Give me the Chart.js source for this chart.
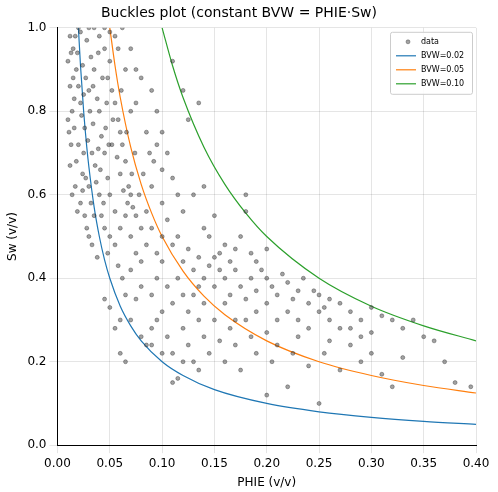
<!DOCTYPE html>
<html><head><meta charset="utf-8">
<script src="https://cdn.jsdelivr.net/npm/chart.js@4"></script>
<style>html,body{margin:0;padding:0;background:#fff}#w{width:498px;height:492px}</style>
</head><body><div id="w"><canvas id="c" width="498" height="492"></canvas></div>
<script>
const dataPts = [
[0.012,0.98],[0.015,0.95],[0.018,0.9],[0.02,0.86],[0.022,0.82],[0.014,0.8],[0.016,0.76],[0.02,0.72],[0.025,0.7],[0.018,0.68],[0.024,0.65],[0.03,0.62],
[0.028,0.97],[0.032,0.93],[0.035,0.9],[0.03,0.85],[0.038,0.83],[0.04,0.8],[0.034,0.77],[0.042,0.74],[0.045,0.7],[0.036,0.67],[0.048,0.64],[0.05,0.6],
[0.044,0.58],[0.055,0.56],[0.026,0.55],[0.04,0.98],[0.045,0.95],[0.05,0.92],[0.048,0.88],[0.052,0.85],[0.055,0.82],[0.058,0.78],[0.06,0.75],[0.062,0.72],
[0.065,0.68],[0.06,0.65],[0.068,0.62],[0.07,0.6],[0.072,0.57],[0.075,0.55],[0.022,0.99],[0.03,1.0],[0.035,1.0],[0.02,1.0],[0.045,1.0],[0.05,0.99],
[0.01,0.92],[0.012,0.86],[0.01,0.78],[0.013,0.72],[0.017,0.62],[0.022,0.58],[0.028,0.52],[0.033,0.48],[0.038,0.45],[0.03,0.5],[0.035,0.55],[0.04,0.6],
[0.045,0.52],[0.05,0.5],[0.055,0.48],[0.06,0.52],[0.065,0.55],[0.07,0.5],[0.08,0.52],[0.085,0.56],[0.078,0.6],[0.082,0.65],[0.088,0.7],[0.092,0.68],
[0.095,0.72],[0.1,0.66],[0.09,0.62],[0.1,0.58],[0.015,0.88],[0.019,0.94],[0.024,0.91],[0.027,0.88],[0.031,0.8],[0.026,0.76],[0.023,0.79],[0.029,0.73],
[0.033,0.7],[0.037,0.63],[0.041,0.66],[0.046,0.76],[0.052,0.72],[0.057,0.69],[0.063,0.61],[0.067,0.58],[0.071,0.65],[0.074,0.7],[0.066,0.75],[0.07,0.8],
[0.061,0.85],[0.065,0.9],[0.058,0.95],[0.062,1.0],[0.055,0.98],[0.012,0.67],[0.014,0.6],[0.019,0.56],[0.024,0.61],[0.016,0.83],[0.011,0.75],[0.013,0.94],
[0.017,0.98],[0.025,0.84],[0.034,0.86],[0.043,0.88],[0.039,0.94],[0.047,0.82],[0.053,0.78],[0.049,0.72],[0.039,0.71],[0.027,0.64],[0.032,0.58],[0.042,0.55],
[0.048,0.46],[0.058,0.43],[0.062,0.4],[0.07,0.42],[0.075,0.46],[0.08,0.44],[0.085,0.48],[0.09,0.52],[0.095,0.46],[0.1,0.5],[0.105,0.54],[0.11,0.48],
[0.115,0.5],[0.12,0.44],[0.125,0.47],[0.13,0.42],[0.135,0.45],[0.14,0.4],[0.145,0.43],[0.15,0.38],[0.155,0.46],[0.16,0.4],[0.165,0.36],[0.17,0.42],
[0.175,0.38],[0.18,0.35],[0.185,0.4],[0.19,0.37],[0.195,0.42],[0.2,0.4],[0.205,0.38],[0.21,0.36],[0.215,0.41],[0.22,0.39],[0.225,0.35],[0.23,0.37],
[0.235,0.4],[0.24,0.34],[0.245,0.37],[0.25,0.36],[0.255,0.33],[0.26,0.35],[0.27,0.34],[0.28,0.32],[0.29,0.3],[0.3,0.33],[0.31,0.31],[0.32,0.3],
[0.33,0.28],[0.35,0.26],[0.37,0.2],[0.38,0.15],[0.395,0.14],[0.36,0.25],[0.34,0.3],[0.07,0.3],[0.08,0.26],[0.085,0.24],[0.09,0.28],[0.095,0.3],
[0.1,0.32],[0.105,0.26],[0.11,0.22],[0.115,0.16],[0.12,0.28],[0.125,0.24],[0.13,0.2],[0.135,0.3],[0.14,0.26],[0.145,0.22],[0.15,0.3],[0.155,0.25],
[0.16,0.2],[0.165,0.28],[0.17,0.24],[0.175,0.18],[0.18,0.3],[0.185,0.26],[0.19,0.22],[0.2,0.27],[0.205,0.2],[0.21,0.24],[0.22,0.14],[0.225,0.22],
[0.23,0.26],[0.24,0.19],[0.25,0.1],[0.255,0.22],[0.26,0.25],[0.27,0.18],[0.28,0.24],[0.29,0.2],[0.3,0.22],[0.31,0.17],[0.32,0.14],[0.33,0.21],
[0.2,0.12],[0.11,0.15],[0.06,0.22],[0.065,0.2],[0.045,0.35],[0.05,0.33],[0.055,0.28],[0.06,0.3],[0.065,0.36],[0.075,0.35],[0.08,0.38],[0.09,0.36],
[0.095,0.4],[0.1,0.44],[0.105,0.38],[0.11,0.34],[0.115,0.4],[0.12,0.36],[0.125,0.32],[0.13,0.36],[0.135,0.38],[0.14,0.34],[0.145,0.5],[0.15,0.45],
[0.155,0.42],[0.16,0.48],[0.165,0.44],[0.17,0.47],[0.175,0.5],[0.18,0.56],[0.185,0.46],[0.19,0.44],[0.125,0.78],[0.11,0.92],[0.12,0.85],[0.135,0.82],
[0.1,0.75],[0.105,0.7],[0.11,0.64],[0.115,0.6],[0.12,0.56],[0.13,0.6],[0.14,0.52],[0.15,0.55],[0.095,0.8],[0.085,0.75],[0.075,0.82],[0.08,0.88],
[0.07,0.95],[0.075,0.9],[0.09,0.85],[0.14,0.62],[0.18,0.6],[0.2,0.47],[0.16,0.34],[0.17,0.3],[0.19,0.32],[0.2,0.34],[0.21,0.3],[0.22,0.32],
[0.23,0.3],[0.24,0.28],[0.25,0.32],[0.26,0.3],[0.27,0.28],[0.28,0.28],[0.29,0.26],[0.3,0.27],[0.1,0.22],[0.12,0.2],[0.135,0.18],[0.09,0.24]
];
const curveX02 = [0.02,0.022,0.025,0.028,0.03,0.035,0.04,0.045,0.05,0.06,0.07,0.08,0.1,0.12,0.15,0.2,0.25,0.3,0.35,0.4];
const curveY02 = [1,0.909,0.8,0.714,0.667,0.571,0.5,0.444,0.4,0.333,0.286,0.25,0.2,0.167,0.133,0.1,0.08,0.0667,0.0571,0.05];
const curveX05 = [0.05,0.055,0.06,0.07,0.08,0.09,0.1,0.12,0.14,0.16,0.2,0.25,0.3,0.35,0.4];
const curveY05 = [1,0.909,0.833,0.714,0.625,0.556,0.5,0.417,0.357,0.3125,0.25,0.2,0.167,0.143,0.125];
const curveX10 = [0.1,0.11,0.12,0.14,0.16,0.18,0.2,0.25,0.3,0.35,0.4];
const curveY10 = [1,0.909,0.833,0.714,0.625,0.556,0.5,0.4,0.333,0.286,0.25];
const xTicks = [0,0.05,0.1,0.15,0.2,0.25,0.3,0.35,0.4];
const zip=(a,b)=>a.map((x,i)=>({x:x,y:b[i]}));
const F='DejaVu Sans';
Chart.defaults.font.family=F;Chart.defaults.color='#000';
const legendBox={id:'legendBox',afterDraw(ch){
 const c=ch.ctx,a=ch.chartArea;const w=82,h=62,x=a.right-w-4,y=a.top+4;
 c.save();c.fillStyle='rgba(255,255,255,0.85)';c.strokeStyle='#ccc';c.lineWidth=1;
 c.beginPath();c.roundRect(x+0.5,y+0.5,w,h,2);c.fill();c.stroke();
 c.font='8px '+F;c.textBaseline='middle';
 ch.data.datasets.forEach((d,i)=>{const yy=y+10+i*14;
  if(i==0){c.beginPath();c.arc(x+18,yy,2,0,7);c.fillStyle=d.backgroundColor;c.fill();c.strokeStyle=d.borderColor;c.lineWidth=0.6;c.stroke();}
  else{c.beginPath();c.moveTo(x+6,yy);c.lineTo(x+26,yy);c.strokeStyle=d.borderColor;c.lineWidth=1.2;c.stroke();}
  c.fillStyle='#000';c.fillText(d.label,x+31,yy);});
 c.restore();}};
new Chart(document.getElementById('c'),{
 type:'scatter',
 data:{datasets:[
  {label:'data',data:dataPts.map(p=>({x:p[0],y:p[1]})),backgroundColor:'rgba(70,70,70,0.5)',borderColor:'rgba(20,20,20,0.55)',borderWidth:0.6,pointRadius:2},
  {label:'BVW=0.02',type:'line',data:zip(curveX02,curveY02),borderColor:'#1f77b4',borderWidth:1.2,pointRadius:0,cubicInterpolationMode:'monotone',fill:false},
  {label:'BVW=0.05',type:'line',data:zip(curveX05,curveY05),borderColor:'#ff7f0e',borderWidth:1.2,pointRadius:0,cubicInterpolationMode:'monotone',fill:false},
  {label:'BVW=0.10',type:'line',data:zip(curveX10,curveY10),borderColor:'#2ca02c',borderWidth:1.2,pointRadius:0,cubicInterpolationMode:'monotone',fill:false}
 ]},
 options:{responsive:false,animation:false,
  layout:{padding:{left:2,right:22,top:0,bottom:0}},
  plugins:{
   title:{display:true,text:'Buckles plot (constant BVW = PHIE·Sw)',font:{size:14,weight:'normal'},padding:{top:5,bottom:6}},
   legend:{display:false},
   tooltip:{enabled:false}
  },
  scales:{
   x:{type:'linear',min:0,max:0.4,title:{display:true,text:'PHIE (v/v)',font:{size:12},padding:{top:2,bottom:2}},
      afterBuildTicks:a=>{a.ticks=xTicks.map(v=>({value:v}))},
      ticks:{font:{size:12},callback:v=>v.toFixed(2)},grid:{color:'rgba(0,0,0,0.1)'},border:{color:'#000'}},
   y:{min:0,max:1,title:{display:true,text:'Sw (v/v)',font:{size:12}},
      ticks:{stepSize:0.2,font:{size:12},callback:v=>v.toFixed(1)},grid:{color:'rgba(0,0,0,0.1)'},border:{color:'#000'}}
  }},
 plugins:[legendBox]
});
</script></body></html>
